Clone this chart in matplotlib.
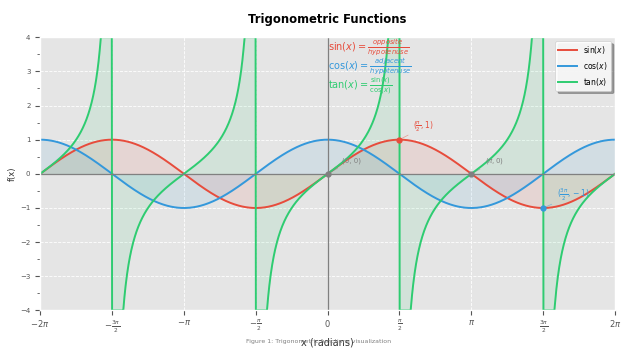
import numpy as np
import matplotlib.pyplot as plt

plt.style.use('ggplot')

# data
x = np.linspace(-2 * np.pi, 2 * np.pi, 2000)
x = np.sort(np.concatenate([x, [-1.5 * np.pi, -0.5 * np.pi, 0.5 * np.pi, 1.5 * np.pi]]))
y_sin = np.sin(x)
y_cos = np.cos(x)
y_tan = np.clip(np.tan(x), -4, 4)

tick_pos = [-2 * np.pi, -1.5 * np.pi, -np.pi, -0.5 * np.pi, 0, 0.5 * np.pi, np.pi, 1.5 * np.pi, 2 * np.pi]
tick_labels = [r'$-2\pi$', r'$-\frac{3\pi}{2}$', r'$-\pi$', r'$-\frac{\pi}{2}$', r'$0$',
               r'$\frac{\pi}{2}$', r'$\pi$', r'$\frac{3\pi}{2}$', r'$2\pi$']

c_sin, c_cos, c_tan = '#e74c3c', '#3498db', '#2ecc71'

fig, ax = plt.subplots(figsize=(6.38, 3.61), dpi=100)
fig.subplots_adjust(left=0.063, right=0.964, top=0.897, bottom=0.14)

ax.plot(x, y_sin, color=c_sin, lw=1.4, label=r'$\sin(x)$')
ax.plot(x, y_cos, color=c_cos, lw=1.4, label=r'$\cos(x)$')
ax.plot(x, y_tan, color=c_tan, lw=1.4, label=r'$\tan(x)$')
ax.fill_between(x, y_sin, 0, color=c_sin, alpha=0.1)
ax.fill_between(x, y_cos, 0, color=c_cos, alpha=0.1)
ax.fill_between(x, y_tan, 0, color=c_tan, alpha=0.1)

ax.axhline(0, color='gray', lw=0.9)
ax.axvline(0, color='gray', lw=0.9)

ax.set_xlim(-2 * np.pi, 2 * np.pi)
ax.set_ylim(-4, 4)
ax.set_xticks(tick_pos)
ax.set_xticklabels(tick_labels, fontsize=6)
ax.set_yticks(range(-4, 5))
ax.set_yticks(np.arange(-3.5, 4, 1), minor=True)
ax.tick_params(axis='y', labelsize=5, colors='#555555')
ax.tick_params(axis='y', which='minor', length=2, color='#555555')
ax.tick_params(axis='x', colors='#555555', pad=2)
ax.grid(True, color='white', linestyle='--', lw=0.6)
ax.set_facecolor('#e5e5e5')

ax.set_title('Trigonometric Functions', fontsize=8.4, fontweight='bold', pad=10)
ax.set_xlabel('x (radians)', fontsize=7, color='#333333', labelpad=2)
ax.set_ylabel('f(x)', fontsize=6, color='#333333', labelpad=2)

# key points
ax.plot(0, 0, 'o', color='gray', ms=3.5)
ax.annotate('(0, 0)', xy=(0, 0), xytext=(10, 8), textcoords='offset points',
            fontsize=5, color='gray', arrowprops=dict(arrowstyle='-', color='gray', lw=0.5, alpha=0.5))
ax.plot(np.pi, 0, 'o', color='gray', ms=3.5)
ax.annotate(r'$(\pi, 0)$', xy=(np.pi, 0), xytext=(10, 8), textcoords='offset points',
            fontsize=5, color='gray', arrowprops=dict(arrowstyle='-', color='gray', lw=0.5, alpha=0.5))
ax.plot(np.pi / 2, 1, 'o', color=c_sin, ms=3.5)
ax.annotate(r'$(\frac{\pi}{2}, 1)$', xy=(np.pi / 2, 1), xytext=(10, 8), textcoords='offset points',
            fontsize=5.5, color=c_sin, arrowprops=dict(arrowstyle='-', color=c_sin, lw=0.5, alpha=0.5))
ax.plot(3 * np.pi / 2, -1, 'o', color=c_cos, ms=3.5)
ax.annotate(r'$(\frac{3\pi}{2}, -1)$', xy=(3 * np.pi / 2, -1), xytext=(10, 8), textcoords='offset points',
            fontsize=5.5, color=c_cos, arrowprops=dict(arrowstyle='-', color=c_cos, lw=0.5, alpha=0.5))

# formulas
ax.text(0.501, 0.962, r'$\sin(x) = \frac{opposite}{hypotenuse}$', transform=ax.transAxes,
        fontsize=7, color=c_sin, va='center')
ax.text(0.501, 0.893, r'$\cos(x) = \frac{adjacent}{hypotenuse}$', transform=ax.transAxes,
        fontsize=7, color=c_cos, va='center')
ax.text(0.501, 0.82, r'$\tan(x) = \frac{\sin(x)}{\cos(x)}$', transform=ax.transAxes,
        fontsize=7, color=c_tan, va='center')

leg = ax.legend(loc='upper right', fontsize=5.5, frameon=True, facecolor='white',
                edgecolor='#cccccc', framealpha=0.9, shadow=True, handlelength=2.5)

fig.text(0.5, 0.05, 'Figure 1: Trigonometric functions visualization', ha='center',
         fontsize=4.5, color='gray')

fig.savefig('out.png', dpi=100)
